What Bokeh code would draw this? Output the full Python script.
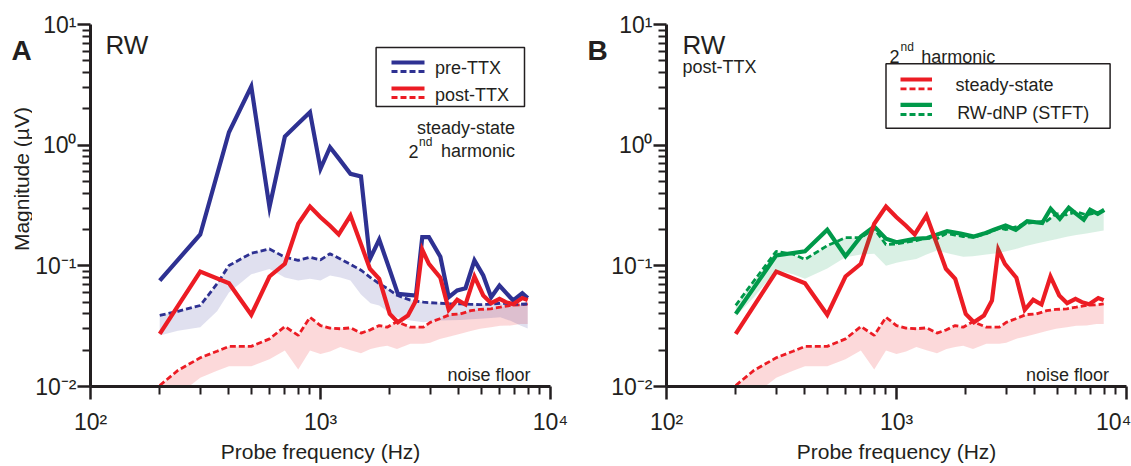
from math import pi
from bokeh.plotting import figure
from bokeh.layouts import row
from bokeh.models import FixedTicker, Label
from bokeh.embed import file_html
from bokeh.resources import INLINE

# ---------------- data ----------------
# steady-state 2nd harmonic, pre- and post-TTX (solid lines)
freq_ss = [200, 300, 400, 500, 600, 700, 800, 900, 1000, 1100, 1200, 1350, 1500,
           1640, 1800, 2000, 2170, 2400, 2600, 2770, 2960, 3320, 3610, 3930, 4270,
           4670, 5100, 5520, 6000, 6400, 6880, 7540, 7960]
pre_ttx_ss = [0.0755, 0.182, 1.28, 3.06, 0.306, 1.18, 1.51, 1.876, 0.637, 0.962, 0.777,
              0.579, 0.55, 0.114, 0.165, 0.0925, 0.0586, 0.0575, 0.0568, 0.173, 0.173,
              0.119, 0.055, 0.0625, 0.0653, 0.111, 0.0832, 0.055, 0.0687, 0.060,
              0.0516, 0.0593, 0.054]
post_ttx_ss = [0.0273, 0.0897, 0.0718, 0.0393, 0.0816, 0.104, 0.223, 0.310, 0.253,
               0.215, 0.182, 0.261, 0.151, 0.0945, 0.078, 0.040, 0.0341, 0.0388,
               0.0516, 0.136, 0.104, 0.0796, 0.0432, 0.0523, 0.0478, 0.0816, 0.0568,
               0.049, 0.0533, 0.050, 0.048, 0.054, 0.052]

# noise floors (dashed lines) and their shaded ranges
freq_nf = [200, 240, 300, 355, 400, 500, 600, 700, 800, 900, 1000, 1100, 1220, 1350,
           1500, 1650, 1800, 1950, 2150, 2460, 2800, 3000, 3300, 3650, 4060, 4500,
           4940, 5500, 6050, 6700, 7400, 7960]
pre_ttx_nf = [0.0388, 0.042, 0.0469, 0.071, 0.1006, 0.127, 0.138, 0.118, 0.111, 0.118,
              0.112, 0.126, 0.114, 0.103, 0.092, 0.080, 0.071, 0.065, 0.057, 0.052,
              0.050, 0.0495, 0.049, 0.0485, 0.0483, 0.048, 0.0477, 0.048, 0.049,
              0.0485, 0.048, 0.0483]
pre_ttx_nf_low = [0.0265, 0.029, 0.031, 0.042, 0.060, 0.085, 0.094, 0.080, 0.0755,
                  0.078, 0.0755, 0.083, 0.080, 0.0755, 0.058, 0.049, 0.0469, 0.042,
                  0.0375, 0.0352, 0.0341, 0.0345, 0.0352, 0.0354, 0.0356, 0.036,
                  0.0364, 0.037, 0.0375, 0.035, 0.032, 0.0303]
post_ttx_nf = [0.0102, 0.0136, 0.0173, 0.0196, 0.0215, 0.0215, 0.0248, 0.0314, 0.0265,
               0.0375, 0.0320, 0.0305, 0.0301, 0.0306, 0.0277, 0.0295, 0.032, 0.031,
               0.0345, 0.031, 0.031, 0.034, 0.0364, 0.0394, 0.040, 0.0425, 0.0435,
               0.044, 0.0454, 0.047, 0.0475, 0.0483]
post_ttx_nf_low = [0.007, 0.0085, 0.0118, 0.0135, 0.0147, 0.0147, 0.0168, 0.0199,
                   0.0138, 0.0199, 0.0186, 0.0195, 0.0212, 0.0200, 0.0189, 0.0205,
                   0.0212, 0.0218, 0.0205, 0.0226, 0.0226, 0.0230, 0.0248, 0.026,
                   0.0273, 0.0288, 0.0301, 0.031, 0.0318, 0.032, 0.033, 0.033]

# RW-dNP (STFT), post-TTX
freq_stft = [200, 300, 400, 500, 600, 700, 800, 900, 1000, 1200, 1360, 1660, 1900, 2170,
             2400, 2650, 2980, 3300, 3700, 4300, 4680, 5130, 5610, 6050, 6520, 6950,
             7500, 8000]
stft_ss = [0.040, 0.122, 0.132, 0.199, 0.120, 0.175, 0.212, 0.168, 0.157, 0.167, 0.170,
           0.194, 0.185, 0.175, 0.185, 0.199, 0.216, 0.199, 0.234, 0.226, 0.297, 0.245,
           0.303, 0.270, 0.241, 0.291, 0.270, 0.291]
stft_nf = [0.047, 0.075, 0.132, 0.125, 0.113, 0.147, 0.171, 0.171, 0.203, 0.150, 0.152,
           0.157, 0.162, 0.170, 0.168, 0.185, 0.180, 0.175, 0.172, 0.185, 0.205, 0.200,
           0.210, 0.225, 0.230, 0.235, 0.270, 0.265, 0.280, 0.265, 0.275, 0.285]
stft_nf_low = [0.038, 0.055, 0.092, 0.085, 0.078, 0.095, 0.118, 0.124, 0.126, 0.100,
               0.106, 0.110, 0.114, 0.124, 0.134, 0.128, 0.123, 0.119, 0.120, 0.124,
               0.128, 0.132, 0.138, 0.146, 0.153, 0.160, 0.166, 0.174, 0.180, 0.185,
               0.192, 0.196]

# axis ticks and labels
x_major = [100, 1000, 10000]
x_labels = ["10\u00b2", "10\u00b3", "10\u2074"]
x_minor = [200, 300, 400, 500, 600, 700, 800, 900,
           2000, 3000, 4000, 5000, 6000, 7000, 8000, 9000]
y_major = [0.01, 0.1, 1, 10]
y_labels = ["10\u207b\u00b2", "10\u207b\u00b9", "10\u2070", "10\u00b9"]
y_minor = [0.02, 0.03, 0.04, 0.05, 0.06, 0.07, 0.08, 0.09,
           0.2, 0.3, 0.4, 0.5, 0.6, 0.7, 0.8, 0.9,
           2, 3, 4, 5, 6, 7, 8, 9]

# ---------------- styling ----------------
INK = "#231F20"
BLUE = "#2E3192"
RED = "#EC1C24"
GREEN = "#00994A"
FONT = "Liberation Sans"
FRAME_TOP = 24
DECADE_X = 230.0
DECADE_Y = 120.67
SOLID_W = 4.2
DASH_W = 2.8
DASH = "6 3"


def to_x(px, left):
    return 100 * 10 ** ((px - left) / DECADE_X)


def to_y(py):
    return 10 ** (1 - (py - FRAME_TOP) / DECADE_Y)


def make_gutter(width):
    g = figure(width=width, height=466, x_range=(0, width), y_range=(466, 0),
               output_backend="svg", toolbar_location=None, min_border=0,
               x_axis_location=None, y_axis_location=None)
    g.outline_line_color = None
    g.grid.visible = False
    return g


def make_fig(width, left_border, right_border):
    p = figure(width=width, height=466, x_axis_type="log", y_axis_type="log",
               x_range=(100, 10000), y_range=(0.01, 10),
               output_backend="svg", toolbar_location=None,
               min_border_left=left_border, min_border_right=right_border,
               min_border_top=FRAME_TOP, min_border_bottom=80)
    p.outline_line_color = None
    p.xgrid.visible = False
    p.ygrid.visible = False
    xa = p.xaxis[0]
    ya = p.yaxis[0]
    xa.ticker = FixedTicker(ticks=x_major, minor_ticks=x_minor)
    ya.ticker = FixedTicker(ticks=y_major, minor_ticks=y_minor)
    xa.major_label_overrides = dict(zip(x_major, x_labels))
    ya.major_label_overrides = dict(zip(y_major, y_labels))
    for ax in (xa, ya):
        ax.axis_line_width = 3
        ax.axis_line_color = INK
        ax.major_tick_line_width = 2.5
        ax.minor_tick_line_width = 2
        ax.major_tick_line_color = INK
        ax.minor_tick_line_color = INK
        ax.major_tick_out = 13
        ax.major_tick_in = 0
        ax.minor_tick_out = 8
        ax.minor_tick_in = 0
        ax.major_label_text_font = FONT
        ax.major_label_text_font_size = "23px"
        ax.major_label_text_color = INK
        ax.axis_label_text_font = FONT
        ax.axis_label_text_font_size = "21px"
        ax.axis_label_text_font_style = "normal"
        ax.axis_label_text_color = INK
    xa.major_label_standoff = 9
    ya.major_label_standoff = 1
    xa.axis_label_standoff = 2
    xa.axis_label = "Probe frequency (Hz)"
    return p


def add_text(p, left, px, py, text, size, align="left", bold=False):
    p.add_layout(Label(x=to_x(px, left), y=to_y(py), text=text, text_font=FONT,
                       text_font_size=f"{size}px", text_align=align,
                       text_baseline="alphabetic", text_color=INK,
                       text_font_style="bold" if bold else "normal"))


def legend_line(p, left, x0, x1, py, color, dashed):
    p.line([to_x(x0, left), to_x(x1, left)], [to_y(py), to_y(py)], line_color=color,
           line_width=DASH_W if dashed else SOLID_W, line_dash=DASH if dashed else "solid")


def legend_box(p, left, x0, x1, y0, y1):
    p.quad(left=[to_x(x0, left)], right=[to_x(x1, left)], top=[to_y(y0)],
           bottom=[to_y(y1)], fill_color=None, line_color=INK, line_width=1.5)


# ---------------- gutter left of panel A (panel letter + y title) ----------------
GA_W = 32
gA = make_gutter(GA_W)
gA.add_layout(Label(x=11, y=33, text="A", text_font=FONT, text_font_size="28px",
                    text_font_style="bold", text_color=INK, text_align="left",
                    text_baseline="alphabetic"))
gA.add_layout(Label(x=21, y=199, text="Magnitude (\u00b5V)", text_font=FONT,
                    text_font_size="21px", text_color=INK, angle=pi / 2,
                    text_align="center", text_baseline="middle"))

# ---------------- panel A ----------------
LA = 90
pA = make_fig(570 - GA_W, LA - GA_W, 20)
pA.varea(x=freq_nf, y1=post_ttx_nf_low, y2=post_ttx_nf, fill_color=RED, fill_alpha=0.17)
pA.varea(x=freq_nf, y1=pre_ttx_nf_low, y2=pre_ttx_nf, fill_color=BLUE, fill_alpha=0.15)
pA.line(freq_nf, post_ttx_nf, line_color=RED, line_width=DASH_W, line_dash=DASH)
pA.line(freq_nf, pre_ttx_nf, line_color=BLUE, line_width=DASH_W, line_dash=DASH)
pA.line(freq_ss, pre_ttx_ss, line_color=BLUE, line_width=SOLID_W, line_join="miter")
pA.line(freq_ss, post_ttx_ss, line_color=RED, line_width=SOLID_W, line_join="miter")

legend_box(pA, LA, 375.6, 524, 47, 106)
legend_line(pA, LA, 391, 424, 62, BLUE, False)
legend_line(pA, LA, 391, 424, 71, BLUE, True)
legend_line(pA, LA, 391, 424, 88, RED, False)
legend_line(pA, LA, 391, 424, 97, RED, True)
add_text(pA, LA, 434.5, 68, "pre-TTX", 18)
add_text(pA, LA, 434.5, 95, "post-TTX", 18)
add_text(pA, LA, 514.5, 128, "steady-state", 18, align="right")
add_text(pA, LA, 418, 151, "2", 18, align="right")
add_text(pA, LA, 418.5, 142, "nd", 12)
add_text(pA, LA, 514.5, 151, "harmonic", 18, align="right")
add_text(pA, LA, 530, 375, "noise floor", 18, align="right")
add_text(pA, LA, 105, 45, "RW", 26)

# ---------------- gutter left of panel B (panel letter) ----------------
GB_W = 38
gB = make_gutter(GB_W)
gB.add_layout(Label(x=17, y=33, text="B", text_font=FONT, text_font_size="28px",
                    text_font_style="bold", text_color=INK, text_align="left",
                    text_baseline="alphabetic"))

# ---------------- panel B ----------------
GB = 666  # global pixel position of panel B frame left edge
pB = make_fig(561 - GB_W, 96 - GB_W, 5)
pB.varea(x=freq_nf, y1=post_ttx_nf_low, y2=post_ttx_nf, fill_color=RED, fill_alpha=0.17)
pB.line(freq_nf, post_ttx_nf, line_color=RED, line_width=DASH_W, line_dash=DASH)
pB.line(freq_nf, stft_nf, line_color=GREEN, line_width=DASH_W, line_dash=DASH)
pB.line(freq_stft, stft_ss, line_color=GREEN, line_width=SOLID_W, line_join="miter")
pB.line(freq_ss, post_ttx_ss, line_color=RED, line_width=SOLID_W, line_join="miter")
pB.varea(x=freq_nf, y1=stft_nf_low, y2=stft_nf, fill_color=GREEN, fill_alpha=0.15)

legend_box(pB, GB, 885.5, 1109.6, 63.3, 127.7)
legend_line(pB, GB, 900, 931.5, 79, RED, False)
legend_line(pB, GB, 900, 931.5, 88.3, RED, True)
legend_line(pB, GB, 900, 931.5, 104.3, GREEN, False)
legend_line(pB, GB, 900, 931.5, 114, GREEN, True)
add_text(pB, GB, 955, 85, "steady-state", 18)
add_text(pB, GB, 956.7, 113, "RW-dNP (STFT)", 18)
add_text(pB, GB, 899, 56.5, "2", 18, align="right")
add_text(pB, GB, 900, 47, "nd", 12)
add_text(pB, GB, 920.7, 56.5, "harmonic", 18)
add_text(pB, GB, 1108.5, 375, "noise floor", 18, align="right")
add_text(pB, GB, 682, 44.5, "RW", 26)
add_text(pB, GB, 682, 67, "post-TTX", 18)

layout = row(gA, pA, gB, pB)
open("out.html", "w").write(file_html(layout, INLINE))
